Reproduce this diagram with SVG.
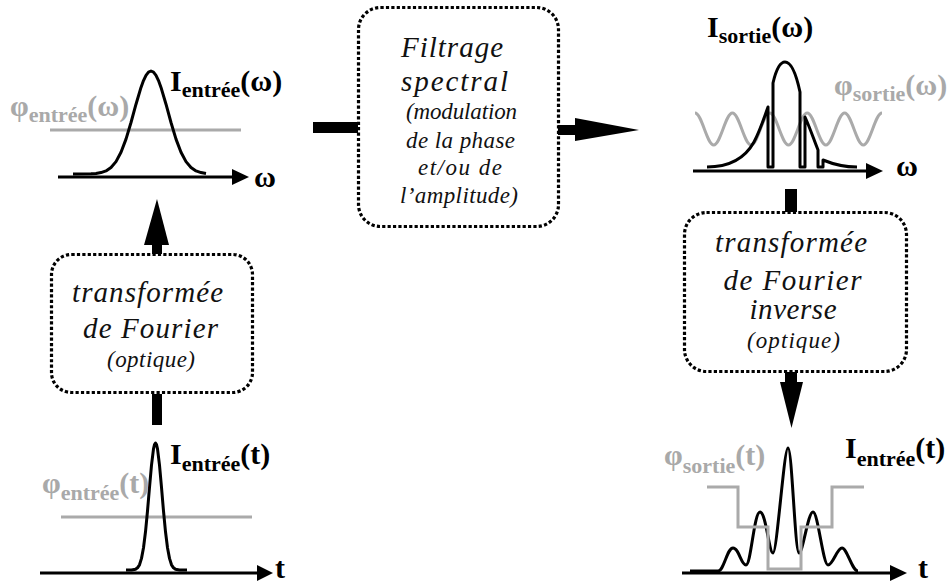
<svg xmlns="http://www.w3.org/2000/svg" width="947" height="585" viewBox="0 0 947 585">
<style>
.box{fill:none;stroke:#000;stroke-width:3.2;stroke-dasharray:3.2 2.2}
.bt{font-family:"Liberation Serif","Times New Roman",serif;font-style:italic;font-size:29px;text-anchor:middle;fill:#111}
.st{font-size:23px}
.lab{font-family:"Liberation Serif","Times New Roman",serif;font-weight:bold;font-size:30px;fill:#000}
.grey{fill:#a9a9a9}
.sub{font-size:22px}
.ax{stroke:#000;stroke-width:3;fill:none}
.cv{stroke:#000;stroke-width:3;fill:none;stroke-linejoin:round}
.gl{stroke:#aaaaaa;stroke-width:3;fill:none}
</style>
<rect width="947" height="585" fill="#fff"/>

<g id="connectors" fill="#000">
  <rect x="313" y="122" width="45" height="11"/>
  <rect x="558" y="125" width="18" height="10"/>
  <polygon points="575,118 639,130 575,141"/>
  <rect x="152" y="243" width="10" height="11"/>
  <polygon points="144,245 157,199 169,245"/>
  <rect x="152" y="394" width="10" height="31"/>
  <rect x="785" y="189" width="12" height="23"/>
  <rect x="785" y="372" width="12" height="11"/>
  <polygon points="780,382 803,382 791.5,428"/>
</g>

<g id="filtrage">
  <rect class="box" x="358.5" y="7.5" width="200" height="219" rx="22"/>
  <text class="bt" x="452" y="57" textLength="102" lengthAdjust="spacing">Filtrage</text>
  <text class="bt" x="454.5" y="91" textLength="107" lengthAdjust="spacing">spectral</text>
  <text class="bt st" x="461.5" y="119" textLength="111" lengthAdjust="spacing">(modulation</text>
  <text class="bt st" x="460.5" y="148" textLength="109" lengthAdjust="spacing">de la phase</text>
  <text class="bt st" x="460" y="175" textLength="84" lengthAdjust="spacing">et/ou de</text>
  <text class="bt st" x="459" y="203" textLength="118" lengthAdjust="spacing">l’amplitude)</text>
</g>

<g id="tf">
  <rect class="box" x="51.5" y="254.5" width="201" height="138" rx="20"/>
  <text class="bt" x="147.5" y="302" textLength="151" lengthAdjust="spacing">transformée</text>
  <text class="bt" x="150.5" y="338" textLength="135" lengthAdjust="spacing">de Fourier</text>
  <text class="bt st" x="151" y="367" textLength="88" lengthAdjust="spacing">(optique)</text>
</g>

<g id="tf-inverse">
  <rect class="box" x="684.5" y="212.5" width="222" height="159" rx="22"/>
  <text class="bt" x="791" y="252" textLength="152" lengthAdjust="spacing">transformée</text>
  <text class="bt" x="792.5" y="290" textLength="138" lengthAdjust="spacing">de Fourier</text>
  <text class="bt" x="793" y="319" textLength="87" lengthAdjust="spacing">inverse</text>
  <text class="bt st" x="793.5" y="348" textLength="93" lengthAdjust="spacing">(optique)</text>
</g>

<g id="spectre-entree">
  <line class="gl" x1="50" y1="130" x2="241" y2="130"/>
  <line class="ax" x1="58" y1="177" x2="234" y2="177"/>
  <polygon points="232,169 249,177 232,185"/>
  <polyline class="cv" points="73,174 91,173.8 96,173.5 101,172.6 106,170.9 111,167.5 116,161.6 121,152.3 126,139.1 131,122.5 136,104.2 141,87.4 143.5,80.6 146,75.3 148.5,72.1 151,71 153.5,72.1 156,75.3 158.5,80.6 161,87.4 166,104.2 171,122.5 176,139.1 181,152.3 186,161.6 191,167.5 196,170.9 201,172.6 206,173.5"/>
  <text class="lab" x="170" y="91">I<tspan class="sub" dy="6">entrée</tspan><tspan dy="-6">(ω)</tspan></text>
  <text class="lab grey" x="10" y="116">φ<tspan class="sub" dy="6">entrée</tspan><tspan dy="-6">(ω)</tspan></text>
  <text class="lab" x="254" y="187">ω</text>
</g>

<g id="temps-entree">
  <line class="gl" x1="61" y1="517" x2="252" y2="517"/>
  <line class="ax" x1="40" y1="573" x2="259" y2="573"/>
  <polygon points="257,565 273,573 257,581"/>
  <polyline class="cv" points="126,570 131.5,569.9 135.5,569.2 137.5,567.8 139.5,564.8 141.5,558.4 143.5,547.7 145.5,531.8 147.5,511 149.5,487.4 151.5,465.1 153.5,448.9 154.5,444.5 155.5,443 156.5,444.5 157.5,448.9 159.5,465.1 161.5,487.4 163.5,511 165.5,531.8 167.5,547.7 169.5,558.4 171.5,564.8 173.5,567.8 175.5,569.2 179.5,569.9 187,570"/>
  <text class="lab" x="170" y="464">I<tspan class="sub" dy="7">entrée</tspan><tspan dy="-7">(t)</tspan></text>
  <text class="lab grey" x="42" y="493">φ<tspan class="sub" dy="7">entrée</tspan><tspan dy="-7">(t)</tspan></text>
  <text class="lab" x="275" y="578">t</text>
</g>

<g id="spectre-sortie">
  <path class="gl" d="M695,113 C701.8,113 706.9,145 713.7,145 S725.6,113 732.4,113 S744.3,145 751.1,145 S763,113 769.8,113 S781.7,145 788.5,145 S800.4,113 807.2,113 S819.1,145 825.9,145 S837.8,113 844.6,113 S856.5,145 863.3,145 S875.2,113 882,113"/>
  <line class="ax" x1="693" y1="171" x2="868" y2="171"/>
  <polygon points="866,163 883,171 866,179"/>
  <path class="cv" d="M707,167 C728,167 744,160 754,142 C760,131 764,118 768,107 L768,167 L773,167 L773,83 C776,70 780,62 785,62 C792,62 797,78 800,92 L800,167 L805,167 L805,117 C810,128 814,140 818,150 L818,167 L823,167 L823,160 C835,165 845,167 857,167"/>
  <text class="lab" x="707" y="37">I<tspan class="sub" dy="6">sortie</tspan><tspan dy="-6">(ω)</tspan></text>
  <text class="lab grey" x="834" y="95">φ<tspan class="sub" dy="6">sortie</tspan><tspan dy="-6">(ω)</tspan></text>
  <text class="lab" x="896" y="176">ω</text>
</g>

<g id="temps-sortie">
  <line class="ax" x1="682" y1="573" x2="892" y2="573"/>
  <polygon points="890,565 907,573 890,581"/>
  <path class="cv" d="M690,571 L718,571 C724,571 727,548 733,548 C739,548 741,565 746,565 C751,565 754,512 760,512 C766,512 769,553 773,553 C777,553 784,448 788,448 C792,448 795,553 799,553 C803,553 808,512 813,512 C818,512 823,565 828,565 C833,565 837,548 842,548 C847,548 852,571 858,571"/>
  <polyline class="gl" points="707,487 738,487 738,527 768,527 768,569 801,569 801,527 832,527 832,487 864,487"/>
  <text class="lab grey" x="664" y="465">φ<tspan class="sub" dy="8">sortie</tspan><tspan dy="-8">(t)</tspan></text>
  <text class="lab" x="845" y="458">I<tspan class="sub" dy="8">entrée</tspan><tspan dy="-8">(t)</tspan></text>
  <text class="lab" x="918" y="578">t</text>
</g>
</svg>
